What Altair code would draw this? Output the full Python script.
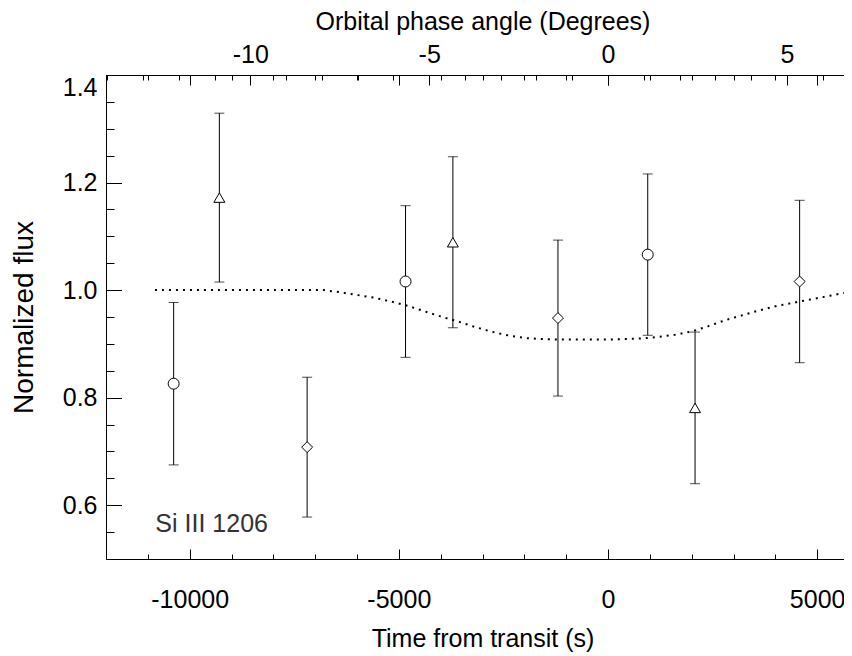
import altair as alt
import pandas as pd

# ---- data ----
time_s = [-10383, -9290, -7192, -4840, -3708, -1196, 950, 2081, 4581]
flux = [0.826, 1.172, 0.708, 1.016, 1.089, 0.948, 1.066, 0.781, 1.016]
flux_err = [0.151, 0.157, 0.130, 0.141, 0.159, 0.145, 0.150, 0.141, 0.151]
symbol = ["circle", "triangle", "diamond", "circle", "triangle", "diamond",
          "circle", "triangle", "diamond"]

model_t = [-10830, -9000, -7500, -6800, -6400, -6000, -5600, -5200, -4800, -4400,
           -4000, -3600, -3200, -2800, -2400, -2000, -1600, -1200, -800, -400,
           0, 400, 800, 1200, 1600, 2000, 2400, 2800, 3200, 3600, 4000, 4400,
           4800, 5200, 5600, 6000]
model_f = [1.000, 1.000, 1.000, 1.000, 0.996, 0.991, 0.986, 0.979, 0.971, 0.961,
           0.951, 0.942, 0.932, 0.923, 0.916, 0.911, 0.909, 0.908, 0.908, 0.908,
           0.908, 0.909, 0.910, 0.913, 0.917, 0.923, 0.933, 0.944, 0.953, 0.962,
           0.970, 0.976, 0.982, 0.988, 0.994, 0.998]

x_major = [-10000, -5000, 0, 5000]
x_minor = list(range(-12000, 6001, 1000))
y_major = [0.6, 0.8, 1.0, 1.2, 1.4]
y_minor = [round(0.5 + 0.05 * i, 2) for i in range(19)]
deg_major = [-10, -5, 0, 5]
deg_minor = list(range(-14, 8))
label_text = ["Si III 1206"]
label_t = [-10820]
label_f = [0.565]

XMIN, XMAX = -12000, 6000
SEC_PER_DEG = 855.0
YMIN, YMAX = 0.5, 1.4

FONT = "Liberation Sans"
FS = 25

pts = pd.DataFrame({
    "t": time_s, "f": flux,
    "lo": [a - b for a, b in zip(flux, flux_err)],
    "hi": [a + b for a, b in zip(flux, flux_err)],
    "sym": symbol,
})
model = pd.DataFrame({"t": model_t, "f": model_f})
lab = pd.DataFrame({"t": label_t, "f": label_f, "txt": label_text})
degdf = pd.DataFrame({"d": deg_major})

xs = alt.Scale(domain=[XMIN, XMAX], nice=False, zero=False)
ys = alt.Scale(domain=[YMIN, YMAX], nice=False, zero=False)
ds = alt.Scale(domain=[XMIN / SEC_PER_DEG, XMAX / SEC_PER_DEG], nice=False, zero=False)

LBL = "datum.value < 0 ? '-' + format(-datum.value, 'd') : format(datum.value, 'd')"


def axis(orient, values, tick, labels=False, title=None, tfs=FS, **kw):
    return alt.Axis(orient=orient, values=values, tickSize=tick, offset=-tick,
                    labels=labels, domain=False, grid=False, title=title,
                    tickColor="black", tickWidth=1,
                    labelFont=FONT, titleFont=FONT, labelFontSize=FS, titleFontSize=tfs,
                    labelColor="black", titleColor="black", titleFontWeight="normal",
                    **kw)


ax_bottom_major = axis("bottom", x_major, 10, labels=True, title="Time from transit (s)",
                       labelExpr=LBL, labelPadding=28, titlePadding=14)
ax_bottom_minor = axis("bottom", x_minor, 5)
ax_top_major = axis("top", x_major, 10)
ax_top_minor = axis("top", x_minor, 5)
ax_left_major = axis("left", y_major, 15.5, labels=True, title="Normalized flux", tfs=28,
                     format=".1f", labelPadding=9, titlePadding=24, labelFlush=True)
ax_left_minor = axis("left", y_minor, 8)
ax_right_major = axis("right", y_major, 15.5)
ax_right_minor = axis("right", y_minor, 8)
ax_deg_major = axis("top", deg_major, 10, labels=True, title="Orbital phase angle (Degrees)",
                    labelExpr=LBL, labelPadding=8, titlePadding=8)
ax_deg_minor = axis("top", deg_minor, 5)

bars = alt.Chart(pts).mark_rule(color="black", strokeWidth=1).encode(
    x=alt.X("t:Q", scale=xs, axis=ax_bottom_major),
    y=alt.Y("lo:Q", scale=ys, axis=ax_left_major),
    y2="hi:Q",
)
caps_hi = alt.Chart(pts).mark_tick(orient="horizontal", size=10, thickness=1, color="black").encode(
    x=alt.X("t:Q", scale=xs, axis=ax_bottom_minor),
    y=alt.Y("hi:Q", scale=ys, axis=ax_left_minor),
)
caps_lo = alt.Chart(pts).mark_tick(orient="horizontal", size=10, thickness=1, color="black").encode(
    x=alt.X("t:Q", scale=xs, axis=ax_top_major),
    y=alt.Y("lo:Q", scale=ys, axis=ax_right_major),
)
syms = alt.Chart(pts).mark_point(filled=False, fill="white", fillOpacity=1, stroke="black",
                                 strokeWidth=1, size=120, opacity=1).encode(
    x=alt.X("t:Q", scale=xs, axis=ax_top_minor),
    y=alt.Y("f:Q", scale=ys, axis=ax_right_minor),
    shape=alt.Shape("sym:N", scale=alt.Scale(domain=["circle", "triangle", "diamond"],
                                             range=["circle", "triangle-up", "diamond"]),
                    legend=None),
)
curve = alt.Chart(model).mark_line(color="black", strokeWidth=2, strokeDash=[2, 5]).encode(
    x=alt.X("t:Q", scale=xs, axis=None),
    y=alt.Y("f:Q", scale=ys, axis=None),
)
txt = alt.Chart(lab).mark_text(align="left", baseline="middle", font=FONT, fontSize=FS,
                               color="#333333").encode(
    x=alt.X("t:Q", scale=xs, axis=None),
    y=alt.Y("f:Q", scale=ys, axis=None),
    text="txt:N",
)
deg_major_layer = alt.Chart(degdf).mark_point(opacity=0).encode(
    x=alt.X("d:Q", scale=ds, axis=ax_deg_major),
)
deg_minor_layer = alt.Chart(degdf).mark_point(opacity=0).encode(
    x=alt.X("d:Q", scale=ds, axis=ax_deg_minor),
)

chart = alt.layer(
    curve, bars, caps_hi, caps_lo, syms, txt, deg_major_layer, deg_minor_layer
).resolve_scale(x="independent").resolve_axis(x="independent", y="independent").properties(
    width=753, height=484,
    padding={"left": 98, "top": 67, "right": -15, "bottom": 97},
    autosize=alt.AutoSizeParams(type="none"),
    background="white",
).configure_view(
    stroke="black", strokeWidth=1
)

chart.save("out.html", embed_options={"renderer": "svg", "actions": False})
